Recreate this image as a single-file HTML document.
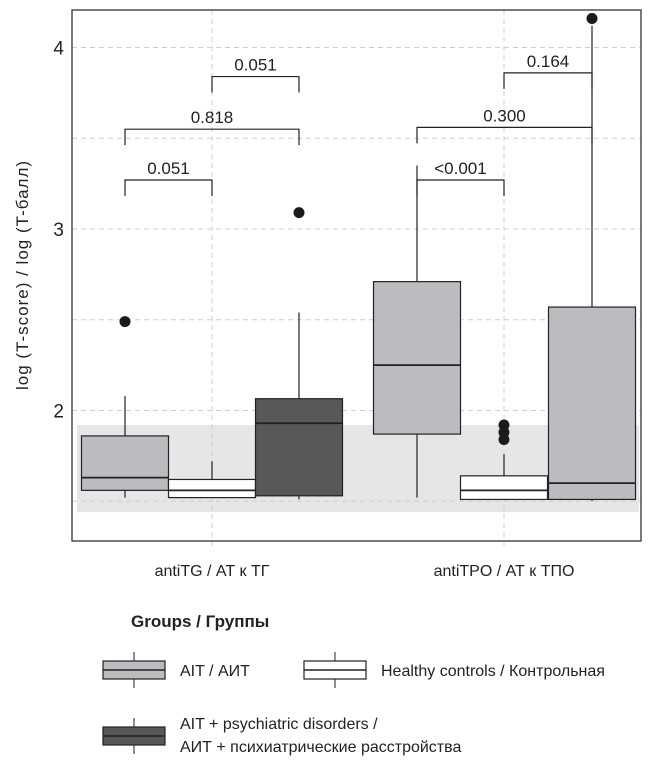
<!DOCTYPE html>
<html><head><meta charset="utf-8"><style>
body{margin:0;background:#fff;}
svg{display:block;font-family:"Liberation Sans","DejaVu Sans",sans-serif;}
</style></head><body>
<svg id="chart" width="653" height="768" viewBox="0 0 653 768"></svg>
<script>
const groupsX = ["antiTG / АТ к ТГ", "antiTPO / АТ к ТПО"];
const yTicks = [2, 3, 4];
const yMinor = [1.5, 2.5, 3.5];
// [whiskerLow, q1, median, q3, whiskerHigh]
const aitStats = [[1.52,1.56,1.63,1.86,2.08],[1.52,1.87,2.25,2.71,3.35]];
const healthyStats = [[1.52,1.52,1.56,1.62,1.72],[1.51,1.51,1.56,1.64,1.76]];
const psychStats = [[1.51,1.53,1.93,2.065,2.54],[1.50,1.51,1.60,2.57,4.12]];
const aitOutliers = [[2.49],[]];
const healthyOutliers = [[],[1.92,1.88,1.84]];
const psychOutliers = [[3.09],[4.16]];
const pLabels = [["0.051","0.818","0.051"],["0.164","0.300","<0.001"]];
const pLevels = [[3.84,3.55,3.27],[3.86,3.56,3.27]];
const refBand = [1.44, 1.92];

const svg = document.getElementById('chart');
const NS = 'http://www.w3.org/2000/svg';
const L=72, R=641, T=10, B=541;
function yS(v){ return 410.5 - (v-2)*181.5; }
const groupCenter = [212, 504];
const bw = 87;
function boxCenter(g, k){ return groupCenter[g] + (k-1)*bw + (g===1 && k===2 ? 1 : 0); }
function mk(tag, attrs, parent){
  const e = document.createElementNS(NS, tag);
  for (const k in attrs) e.setAttribute(k, attrs[k]);
  (parent||svg).appendChild(e); return e;
}
let band = mk('rect',{x:L+5,y:yS(refBand[1]),width:R-L-7,height:yS(refBand[0])-yS(refBand[1]),fill:'#e6e6e6'});


yTicks.concat(yMinor).forEach(v=>{
  const g = mk('line',{x1:L,x2:R,y1:yS(v),y2:yS(v),stroke:'#cfcfcf','stroke-width':1,'stroke-dasharray':'5,4'});
  
  
});
groupCenter.forEach(cx=>{
  const g = mk('line',{x1:cx,x2:cx,y1:T,y2:B+7,stroke:'#cfcfcf','stroke-width':1,'stroke-dasharray':'5,4'});
  
  
});
const fills = ['#bbbcc0','#ffffff','#58585a'];
const sets = [aitStats, healthyStats, psychStats];
const outs = [aitOutliers, healthyOutliers, psychOutliers];
const names = ['ait','healthy','psych'];
for (let g=0; g<2; g++){
  for (let k=0;k<3;k++){
    const s = sets[k][g]; const cx = boxCenter(g,k);
    const fill = (g===1&&k===2)?'#bbbcc0':fills[k];
    const grp = mk('g',{});
    
    
    mk('line',{x1:cx,x2:cx,y1:yS(s[0]),y2:yS(s[4]),stroke:'#222','stroke-width':1.2},grp);
    mk('rect',{x:cx-bw/2,y:yS(s[3]),width:bw,height:yS(s[1])-yS(s[3]),fill:fill,stroke:'#222','stroke-width':1.2},grp);
    mk('line',{x1:cx-bw/2,x2:cx+bw/2,y1:yS(s[2]),y2:yS(s[2]),stroke:'#222','stroke-width':1.8},grp);
    outs[k][g].forEach(v=>{
      const c = mk('circle',{cx:cx,cy:yS(v),r:5.5,fill:'#1a1a1a'},grp);
      
      
    });
  }
}
const pairs = [[1,2],[0,2],[0,1]];
for (let g=0; g<2; g++){
  for (let i=0;i<3;i++){
    const a = boxCenter(g,pairs[i][0]), b = boxCenter(g,pairs[i][1]);
    const y = yS(pLevels[g][i]);
    const br = mk('g',{});
    
    
    mk('path',{d:`M${a},${y+16}V${y}H${b}V${y+16}`,fill:'none',stroke:'#222','stroke-width':1.2},br);
    const t = mk('text',{x:(a+b)/2,y:y-6,'text-anchor':'middle','font-size':17,fill:'#222'},br);
    t.textContent = pLabels[g][i];
  }
}
const fr = mk('rect',{x:L,y:T,width:R-L,height:B-T,fill:'none',stroke:'#333','stroke-width':1.3});


yTicks.forEach(v=>{
  const t = mk('text',{x:L-8,y:yS(v)+7,'text-anchor':'end','font-size':19,fill:'#222'});
  
  
  t.textContent = v;
});
groupsX.forEach((lab,i)=>{
  const t = mk('text',{x:groupCenter[i],y:576,'text-anchor':'middle','font-size':16,fill:'#222'});
  
  
  t.textContent = lab;
});
const yt = mk('text',{x:0,y:0,transform:'translate(28,275) rotate(-90)','text-anchor':'middle','font-size':17,fill:'#222','letter-spacing':'1'});


yt.textContent = 'log (T-score) / log (T-балл)';
</script>
<svg width="653" height="768" style="position:absolute;left:0;top:0">
  <text x="131" y="627" font-size="17" font-weight="bold" fill="#222">Groups / Группы</text>
  <g>
    <line x1="134" x2="134" y1="652" y2="688" stroke="#222"/>
    <rect x="103" y="661" width="62" height="18" fill="#bbbcc0" stroke="#222" stroke-width="1.2"/>
    <line x1="103" x2="165" y1="670" y2="670" stroke="#222" stroke-width="1.6"/>
    <text x="180" y="676" font-size="16" fill="#222">AIT / АИТ</text>
  </g>
  <g>
    <line x1="335" x2="335" y1="652" y2="688" stroke="#222"/>
    <rect x="304" y="661" width="62" height="18" fill="#fff" stroke="#222" stroke-width="1.2"/>
    <line x1="304" x2="366" y1="670" y2="670" stroke="#222" stroke-width="1.6"/>
    <text x="381" y="676" font-size="16" fill="#222">Healthy controls / Контрольная</text>
  </g>
  <g>
    <line x1="134" x2="134" y1="718" y2="754" stroke="#222"/>
    <rect x="103" y="727" width="62" height="18" fill="#58585a" stroke="#222" stroke-width="1.2"/>
    <line x1="103" x2="165" y1="736" y2="736" stroke="#222" stroke-width="1.6"/>
    <text x="180" y="729" font-size="16" fill="#222">AIT + psychiatric disorders /</text>
    <text x="180" y="752" font-size="16" fill="#222">АИТ + психиатрические расстройства</text>
  </g>
</svg>
</body></html>
